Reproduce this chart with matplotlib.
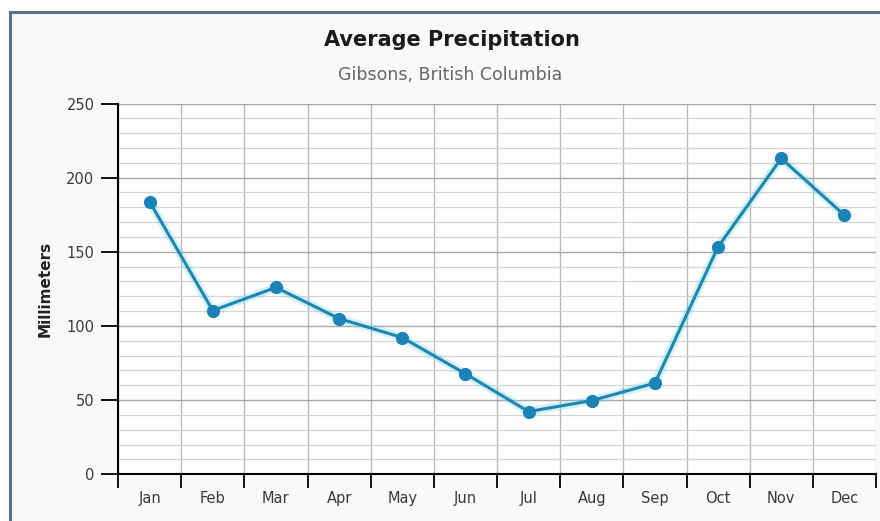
import numpy as np
import matplotlib
matplotlib.use('Agg')
import matplotlib.pyplot as plt
from matplotlib.patches import Rectangle

plt.rcParams['font.family'] = ['DejaVu Sans']

months = ['Jan', 'Feb', 'Mar', 'Apr', 'May', 'Jun',
          'Jul', 'Aug', 'Sep', 'Oct', 'Nov', 'Dec']
precip_mm = [183.8, 110.4, 126.0, 105.0, 92.2, 67.8,
             42.3, 49.7, 61.5, 153.4, 213.0, 174.7]
y_ticks = [0, 50, 100, 150, 200, 250]

fig = plt.figure(figsize=(8.8, 5.21), dpi=100)
fig.patch.set_facecolor('white')

# outer frame of the chart
frame = Rectangle((10 / 880, -0.05), 1.0, 1 - 12 / 521 + 0.05,
                  transform=fig.transFigure, facecolor='#f8f9fb',
                  edgecolor='#5a7088', linewidth=2.2, zorder=-10)
fig.patches.append(frame)

ax = fig.add_axes([118 / 880, 1 - 474.3 / 521, 758 / 880, (474.3 - 103.5) / 521])
ax.set_facecolor('white')

x = np.arange(len(months))
ax.plot(x, precip_mm, color='#80d4f0', linewidth=6, alpha=0.35,
        solid_capstyle='round', zorder=3)
ax.plot(x, precip_mm, color='#1f86ad', linewidth=2.2, marker='o',
        markersize=8.5, markerfacecolor='#1a84b8', markeredgecolor='#1a84b8',
        zorder=4)

ax.set_xlim(-0.5, len(months) - 0.5)
ax.set_ylim(0, 250)

# category boundaries: grid + tick marks
ax.set_xticks(x)
ax.set_xticklabels(months)
ax.set_xticks(np.arange(len(months) + 1) - 0.5, minor=True)
ax.tick_params(axis='x', which='major', length=0, pad=12,
               labelsize=10.5, labelcolor='#3a3a3a')
ax.tick_params(axis='x', which='minor', length=10, width=1.3, color='black')
ax.grid(axis='x', which='minor', color='#b8b8b8', linewidth=1)

ax.set_yticks(y_ticks)
ax.set_yticks(np.arange(0, 251, 10), minor=True)
ax.tick_params(axis='y', which='major', length=12, width=1.3, color='black',
               labelsize=10.5, labelcolor='#3a3a3a', pad=5)
ax.tick_params(axis='y', which='minor', length=0)
ax.grid(axis='y', which='major', color='#a8a8a8', linewidth=1)
ax.grid(axis='y', which='minor', color='#d4d4d4', linewidth=0.9)

for side in ['top', 'right']:
    ax.spines[side].set_visible(False)
ax.spines['left'].set_linewidth(1.5)
ax.spines['bottom'].set_linewidth(1.5)
ax.spines['left'].set_zorder(5)
ax.spines['bottom'].set_zorder(5)

ax.set_ylabel('Millimeters', fontsize=11, fontweight='bold', color='#222222',
              labelpad=10)

fig.text(452 / 880, 1 - 40 / 521, 'Average Precipitation', ha='center',
         va='center', fontsize=15, fontweight='bold', color='#1a1a1a')
fig.text(450 / 880, 1 - 75 / 521, 'Gibsons, British Columbia', ha='center',
         va='center', fontsize=12.5, color='#666666')

fig.savefig('out.png', dpi=100, facecolor=fig.get_facecolor())
